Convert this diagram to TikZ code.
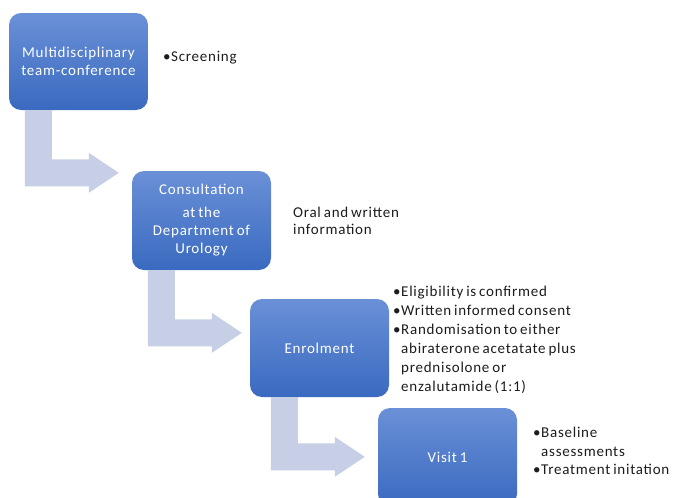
\documentclass[tikz,border=0pt]{standalone}
\usepackage{fontspec}
\setmainfont[LetterSpace=5,WordSpace=0.7]{Carlito}
\usetikzlibrary{calc}

\newcommand{\bul}{\makebox[8pt][l]{\textbullet}}
\newcommand{\nobul}{\hspace*{8pt}}

% elbow-shaped block arrow: #1 = top left of the stem, #2 = tip
\newcommand{\elbowarrow}[2]{%
  \fill[stepflow] let \p1=(#1), \p2=(#2) in
    (\x1,\y1) -- (\x1+27pt,\y1) -- (\x1+27pt,\y2+13.5pt) -- (\x2-30pt,\y2+13.5pt)
    -- (\x2-30pt,\y2+20pt) -- (\x2,\y2) -- (\x2-30pt,\y2-20pt) -- (\x2-30pt,\y2-13.5pt)
    -- (\x1,\y2-13.5pt) -- cycle;}

\begin{document}
\begin{tikzpicture}
    [x=1pt,y=-1pt,
     stepbox/.style={rounded corners=12pt,top color=boxtop,bottom color=boxbot,
        minimum width=139pt,minimum height=98pt,align=center,text=white,
        font=\fontsize{15}{18}\selectfont,inner sep=2pt},
     sidenote/.style={anchor=west,align=left,inner sep=0pt,text=sidetext,
        font=\fontsize{15}{19}\selectfont},
     stepflow/.style={fill=flowgray}]

        \definecolor{boxtop}{RGB}{106,144,215}
        \definecolor{boxbot}{RGB}{58,106,192}
        \definecolor{flowgray}{RGB}{199,207,231}
        \definecolor{sidetext}{RGB}{28,28,28}

        \useasboundingbox (0,0) rectangle (673,498);
        \clip (0,0) rectangle (673,498);

        \node[stepbox,minimum height=97pt] (mdt) at (78.5,61.5) {Multidisciplinary\\team-conference};
        \node[stepbox,minimum height=99pt] (consult) at (201.5,220.5)
            {Consultation\\[5pt]at the\\Department of\\Urology};
        \node[stepbox] (enrol) at (319.5,348) {Enrolment};
        \node[stepbox] (visit) at (447.5,457) {Visit 1};

        \node[sidenote] (screen) at (163,58) {\bul Screening};
        \node[sidenote,font=\fontsize{15}{17}\selectfont] (info) at (293,221)
            {Oral and written\\information};
        \node[sidenote] (elig) at (393,340)
            {\bul Eligibility is confirmed\\
             \bul Written informed consent\\
             \bul Randomisation to either\\
             \nobul abiraterone acetatate plus\\
             \nobul prednisolone or\\
             \nobul enzalutamide (1:1)};
        \node[sidenote,font=\fontsize{15}{18.5}\selectfont] (base) at (533,451)
            {\bul Baseline\\
             \nobul assessments\\
             \bul Treatment initation};

        \coordinate (a1s) at ($(mdt.south west)+(16,0)$);
        \coordinate (a1t) at ($(consult.north west)+(-13,2)$);
        \coordinate (a2s) at ($(consult.south west)+(16,0)$);
        \coordinate (a2t) at ($(enrol.north west)+(-8,34)$);
        \coordinate (a3s) at ($(enrol.south west)+(21,0)$);
        \coordinate (a3t) at ($(visit.north west)+(-13,49)$);

        \elbowarrow{a1s}{a1t}
        \elbowarrow{a2s}{a2t}
        \elbowarrow{a3s}{a3t}

    \end{tikzpicture}
\end{document}
